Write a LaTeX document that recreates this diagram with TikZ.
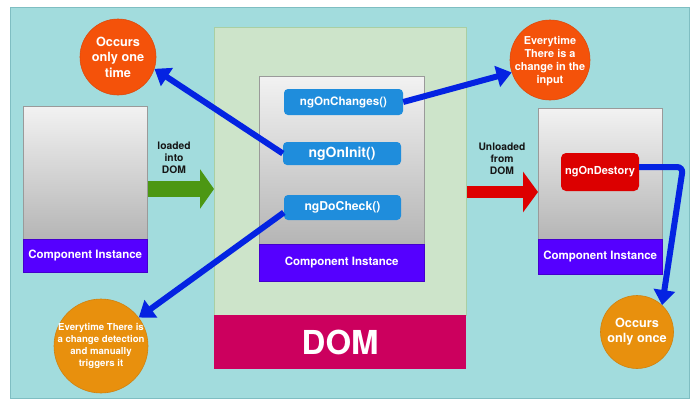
\documentclass[tikz,border=0pt]{standalone}
\usepackage{fontspec}
\setmainfont{TeX Gyre Heros}
\usetikzlibrary{arrows.meta,calc}
\definecolor{tealbg}{HTML}{A2DCDD}
\definecolor{tealline}{HTML}{7FBEC2}
\definecolor{domgreen}{HTML}{CDE4CA}
\definecolor{domline}{HTML}{A9CFA3}
\definecolor{magbar}{HTML}{CC005E}
\definecolor{graytop}{HTML}{F2F2F2}
\definecolor{graybot}{HTML}{B5B5B5}
\definecolor{boxline}{HTML}{9A9A9A}
\definecolor{purp}{HTML}{5500FF}
\definecolor{btnblue}{HTML}{1F8DDC}
\definecolor{destred}{HTML}{DC0000}
\definecolor{arrblue}{HTML}{0423E2}
\definecolor{greenarr}{HTML}{4C9713}
\definecolor{redarr}{HTML}{DD0000}
\definecolor{orred}{HTML}{F4520A}
\definecolor{orredline}{HTML}{DE4A0C}
\definecolor{orng}{HTML}{E8900D}
\definecolor{orngline}{HTML}{D0820F}
\definecolor{lbltext}{HTML}{151515}
\begin{document}
\begin{tikzpicture}[x=1pt,y=-1pt]
\tikzset{
  panel/.style={anchor=north west, inner sep=0pt},
  graybox/.style={panel, draw=boxline, line width=0.6pt, top color=graytop, bottom color=graybot},
  purplebox/.style={panel, fill=purp, draw=purp!80!black, line width=0.4pt, text=white, font=\bfseries\fontsize{11.5}{13}\selectfont},
  btn/.style={fill=btnblue, rounded corners=4pt, text=white, inner sep=0pt},
  bluearrow/.style={draw=arrblue, line width=6pt, -{Triangle[length=15pt,width=21pt]}},
  bubble/.style={circle, inner sep=0pt, line width=0.6pt},
  bubbletext/.style={text=white, align=center, inner sep=0pt},
  lbl/.style={text=lbltext, align=center, inner sep=0pt, font=\bfseries\fontsize{10.3}{12}\selectfont}
}
\useasboundingbox (0,0) rectangle (700,407);
\fill[white] (0,0) rectangle (700,407);

% background panel
\node[panel, fill=tealbg, draw=tealline, line width=0.8pt, minimum width=679pt, minimum height=391pt] (bg) at (10,7) {};

% DOM container
\node[panel, fill=domgreen, draw=domline, line width=0.8pt, minimum width=252pt, minimum height=288pt] (dom) at (214,27) {};
\node[panel, fill=magbar, minimum width=252pt, minimum height=54pt] (dombar) at (214,315) {};
\node[text=white, font=\bfseries\fontsize{33}{36}\selectfont, inner sep=0pt] (domtext) at (dombar.center) {DOM};

% left component
\node[graybox, minimum width=124pt, minimum height=133pt] (lc) at (23,106) {};
\node[purplebox, minimum width=124pt, minimum height=33pt] (lcp) at (23,239) {Component Instance};

% middle component
\node[graybox, minimum width=165pt, minimum height=168pt] (mc) at (259,76) {};
\node[purplebox, minimum width=165pt, minimum height=37pt] (mcp) at (259,244) {Component Instance};

% right component
\node[graybox, minimum width=124pt, minimum height=131pt] (rc) at (538,108) {};
\node[purplebox, minimum width=124pt, minimum height=35pt] (rcp) at (538,239) {Component Instance};

% buttons
\node[btn, minimum width=119pt, minimum height=26pt, font=\bfseries\fontsize{11.6}{13}\selectfont] (onch) at (343.5,102) {ngOnChanges()};
\node[btn, minimum width=118pt, minimum height=23pt, font=\bfseries\fontsize{14}{16}\selectfont] (oninit) at (342,153.5) {ngOnInit()};
\node[btn, minimum width=117pt, minimum height=25pt, font=\bfseries\fontsize{12.2}{14}\selectfont] (docheck) at (342.5,207.5) {ngDoCheck()};
\node[btn, fill=destred, rounded corners=5pt, minimum width=78pt, minimum height=38pt, font=\bfseries\fontsize{11}{13}\selectfont] (destroy) at (600,172) {ngOnDestory};

% block arrows
\coordinate (gy) at (0,189);
\coordinate (ry) at (0,192);
\draw[draw=greenarr, line width=16pt, -{Triangle[length=14pt,width=39pt]}] (lc.east |- gy) -- (dom.west |- gy);
\draw[draw=redarr, line width=12pt, -{Triangle[length=15pt,width=40pt]}] (dom.east |- ry) -- (rc.west |- ry);
\node[lbl] (loadlbl) at (174,158) {loaded\\into\\DOM};
\node[lbl] (unloadlbl) at (502,158.5) {Unloaded\\from\\DOM};

% bubbles
\node[bubble, fill=orred, draw=orredline, minimum size=76pt] (c1) at (118,57) {};
\node[bubbletext, font=\bfseries\fontsize{12.7}{15.5}\selectfont] (c1t) at (c1.center) {Occurs\\only one\\time};
\node[bubble, fill=orred, draw=orredline, minimum size=80pt] (c2) at (550,60) {};
\node[bubbletext, font=\bfseries\fontsize{10.9}{12.8}\selectfont] (c2t) at ([yshift=-1pt]c2.center) {Everytime\\There is a\\change in the\\input};
\node[bubble, fill=orng, draw=orngline, minimum size=94pt] (c3) at (101,346) {};
\node[bubbletext, font=\bfseries\fontsize{9.6}{12}\selectfont] (c3t) at (c3.center) {Everytime There is\\a change detection\\and manually\\triggers it};
\node[bubble, fill=orng, draw=orngline, minimum size=73pt] (c4) at (637,332) {};
\node[bubbletext, font=\bfseries\fontsize{12.7}{15}\selectfont] (c4t) at (c4.center) {Occurs\\only once};

% blue arrows
\draw[bluearrow] (oninit.west) -- (c1.-18);
\draw[bluearrow] (onch.east) -- (c2.198);
\draw[bluearrow] ([yshift=-5pt]docheck.west) -- (c3.37);
\coordinate (bend) at (683,167);
\draw[bluearrow, rounded corners=6pt] ([yshift=5pt]destroy.east) -- (bend) -- (c4.47);
\end{tikzpicture}
\end{document}
